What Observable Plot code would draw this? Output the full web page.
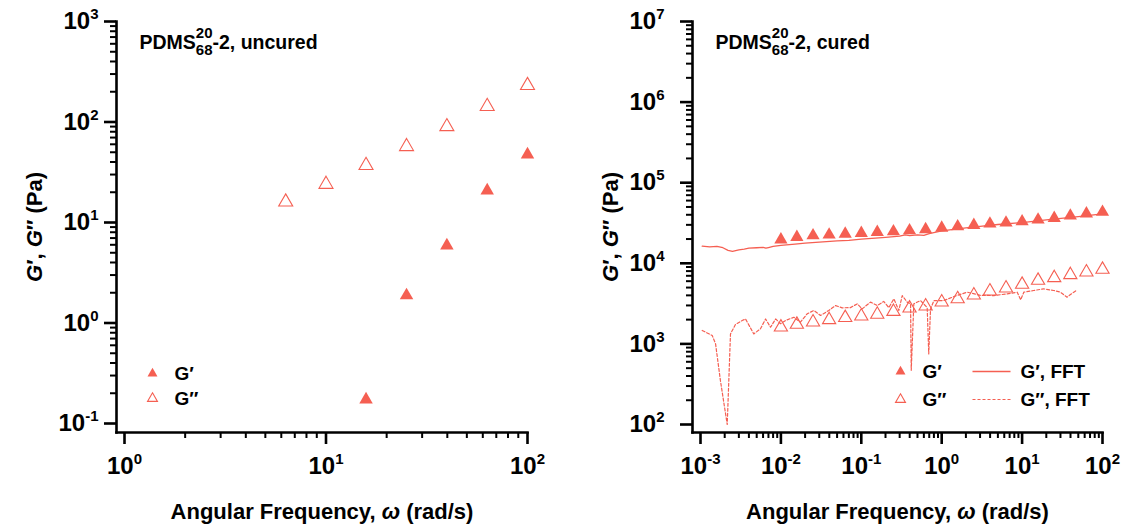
<!DOCTYPE html>
<html><head><meta charset="utf-8">
<script src="https://cdn.jsdelivr.net/npm/d3@7"></script>
<script src="https://cdn.jsdelivr.net/npm/@observablehq/plot@0.6"></script>
<style>
html,body{margin:0;padding:0;background:#fff;}
#wrap{display:flex;width:1122px;height:525px;}
#wrap svg{font-family:"Liberation Sans",Arial,sans-serif;}
</style></head><body><div id="wrap"></div>
<script>
// ---------- data ----------
const leftGpX  = [15.8, 25.1, 39.8, 63.1, 100];
const leftGpY  = [0.173, 1.88, 5.9, 20.8, 47.5];
const leftGppX = [6.31, 10, 15.8, 25.1, 39.8, 63.1, 100];
const leftGppY = [16, 24, 37, 57, 90, 143, 231];

const rightX   = [0.01,0.0158,0.0251,0.0398,0.0631,0.1,0.158,0.251,0.398,0.631,1,1.58,2.51,3.98,6.31,10,15.8,25.1,39.8,63.1,100];
const rightGp  = [19700,21100,22100,22600,23200,23700,24300,24800,25500,26300,27500,28600,29700,30900,31800,33000,34700,36300,38900,41200,43300];
const rightGpp = [1610,1740,1860,1990,2110,2210,2320,2520,2770,2940,3290,3620,4020,4510,4910,5460,6120,6610,7200,7760,8380];

const fftGpX = [0.00105,0.0013,0.0016,0.0019,0.0022,0.0025,0.003,0.0035,0.004,0.005,0.006,0.0065,0.007,0.008,0.01,0.015,0.02,0.03,0.05,0.07,0.1,0.15,0.2,0.3,0.35,0.4,0.5,0.6,0.7,1,1.5,2,3,5,10,20,50,100];
const fftGpY = [16300,16000,16200,15600,14500,14100,14700,15000,15400,15600,15800,15400,15700,16200,16700,17300,17800,18300,19000,19300,19900,20500,21000,21700,22500,22000,22500,22200,23300,25300,26600,27500,28800,30300,32000,34500,38000,41000];

const fftGppX = [0.00105,0.0014,0.00154,0.00177,0.00215,0.00236,0.00272,0.0033,0.00363,0.0046,0.00557,0.00645,0.00743,0.0086,0.0099,0.0114,0.0145,0.0175,0.0212,0.0257,0.0311,0.0394,0.0478,0.0578,0.0734,0.089,0.1026,0.13,0.158,0.19,0.22,0.254,0.293,0.323,0.372,0.41,0.418,0.45,0.545,0.66,0.69,0.726,0.8,1.06,1.56,2.08,3.04,4.46,6.54,8.7,9.6,10.5,13.9,18.6,24.7,29.9,36.2,43.9,48.4];
const fftGppY = [1470,1270,1000,350,100,1330,1740,1950,2040,1330,1540,2040,1610,2040,1780,1950,2140,1860,2360,2600,2250,2600,2990,2800,2820,3140,2720,3300,2990,3360,2820,3620,2600,3980,3300,3140,470,3140,3450,2820,750,2700,3450,3450,4000,4380,4000,3980,4180,4380,3520,4380,4600,4820,4600,4380,3800,4380,4680];

const leftXTicks  = [1, 10, 100];
const leftYTicks  = [0.1, 1, 10, 100, 1000];
const rightXTicks = [0.001, 0.01, 0.1, 1, 10, 100];
const rightYTicks = [1e2, 1e3, 1e4, 1e5, 1e6, 1e7];

const legendLabels = ["G′", "G″", "G′, FFT", "G″, FFT"];
const panelNames = ["uncured", "cured"];

// ---------- helpers ----------
const C = "#f55f52";
const FONT = '"Liberation Sans", Arial, sans-serif';
const pts = (xs, ys) => xs.map((w, i) => ({w, g: ys[i]}));
function minors(majors) {
  const out = [];
  for (let k = 0; k < majors.length - 1; k++)
    for (let m = 2; m <= 9; m++) out.push(majors[k] * m);
  return out;
}
const sci = d => "10^" + Math.round(Math.log10(d));
const lineSymbol = {draw(ctx) { ctx.moveTo(-19, 0); ctx.lineTo(19, 0); }};
const svgNS = "http://www.w3.org/2000/svg";
function rich(el, parts) {
  while (el.firstChild) el.removeChild(el.firstChild);
  for (const p of parts) {
    const ts = document.createElementNS(svgNS, "tspan");
    ts.textContent = p.t;
    if (p.size) ts.setAttribute("font-size", p.size);
    if (p.dy) ts.setAttribute("dy", p.dy);
    if (p.dx) ts.setAttribute("dx", p.dx);
    if (p.i) ts.setAttribute("font-style", "italic");
    el.appendChild(ts);
  }
}
const TXT = {fontWeight: "bold", fill: "black", lineAnchor: "middle"};
function axes(xT, yT, yPad) {
  return [
    Plot.frame({anchor: "left", stroke: "black", strokeWidth: 2.6}),
    Plot.frame({anchor: "bottom", stroke: "black", strokeWidth: 2.6}),
    Plot.axisX(xT, {tickSize: 12, tickPadding: 12, tickFormat: sci, fontSize: 24, fontWeight: "bold", stroke: "black", fill: "black", strokeWidth: 2.6, label: null}),
    Plot.axisX(minors(xT), {tickSize: 6, tickFormat: () => "", stroke: "black", strokeWidth: 2, label: null}),
    Plot.axisY(yT, {tickSize: 12, tickPadding: yPad, tickFormat: sci, fontSize: 24, fontWeight: "bold", stroke: "black", fill: "black", strokeWidth: 2.6, label: null}),
    Plot.axisY(minors(yT), {tickSize: 6, tickFormat: () => "", stroke: "black", strokeWidth: 2, label: null}),
    Plot.text(["@XT"], {...TXT, text: d => d, frameAnchor: "bottom", dy: 79, textAnchor: "middle", fontSize: 22}),
    Plot.text(["@YT"], {...TXT, text: d => d, frameAnchor: "left", dx: -82, rotate: -90, textAnchor: "middle", fontSize: 22})
  ];
}
function post(svg, name) {
  svg.querySelectorAll("text").forEach(t => {
    const s = t.textContent;
    if (s.startsWith("10^")) {
      rich(t, [{t: "10"}, {t: s.slice(3), size: 15, dy: -10}]);
    } else if (s === "@XT") {
      rich(t, [{t: "Angular Frequency, "}, {t: "ω", i: true}, {t: " (rad/s)"}]);
    } else if (s === "@YT") {
      rich(t, [{t: "G", i: true}, {t: "′, "}, {t: "G", i: true}, {t: "″ (Pa)"}]);
    } else if (s === "@TITLE") {
      rich(t, [{t: "PDMS"}, {t: "20", size: 15, dy: -11}, {t: "68", size: 15, dx: -16.7, dy: 17}, {t: "-2, " + name, dy: -6}]);
    }
  });
  return svg;
}
function legendRow(dx, dy, filled, label, lineDx, lineLabel, dashed) {
  const m = [
    Plot.dot([0], {frameAnchor: "bottom-left", dx, dy, symbol: "triangle", r: 3.7, fill: filled ? C : "none", stroke: filled ? "none" : C, strokeWidth: 1.1}),
    Plot.text([label], {...TXT, text: d => d, frameAnchor: "bottom-left", dx: dx + 22, dy, textAnchor: "start", fontSize: 19})
  ];
  if (lineDx != null) {
    m.push(Plot.dot([0], {frameAnchor: "bottom-left", dx: lineDx, dy, symbol: lineSymbol, fill: "none", stroke: C, strokeWidth: dashed ? 1.1 : 1.4, strokeDasharray: dashed ? "3,2" : null}));
    m.push(Plot.text([lineLabel], {...TXT, text: d => d, frameAnchor: "bottom-left", dx: lineDx + 29, dy, textAnchor: "start", fontSize: 19}));
  }
  return m;
}

// ---------- left panel ----------
const left = Plot.plot({
  width: 561, height: 525,
  marginLeft: 116, marginRight: 34, marginTop: 21, marginBottom: 93,
  style: {fontFamily: FONT, background: "white", color: "black", overflow: "visible"},
  x: {type: "log", domain: [1, 100], range: [124, 527]},
  y: {type: "log", domain: [0.1, 1000], range: [423, 21]},
  marks: [
    ...axes(leftXTicks, leftYTicks, 6),
    Plot.dot(pts(leftGppX, leftGppY), {x: "w", y: "g", symbol: "triangle", r: 5.2, fill: "none", stroke: C, strokeWidth: 1.1}),
    Plot.dot(pts(leftGpX, leftGpY), {x: "w", y: "g", symbol: "triangle", r: 5.0, fill: C, stroke: "none"}),
    Plot.text(["@TITLE"], {...TXT, text: d => d, frameAnchor: "top-left", dx: 23, dy: 21, textAnchor: "start", fontSize: 19.5}),
    ...legendRow(36, -59, true, legendLabels[0]),
    ...legendRow(36, -34, false, legendLabels[1])
  ]
});

// ---------- right panel ----------
const right = Plot.plot({
  width: 561, height: 525,
  marginLeft: 131, marginRight: 20, marginTop: 21, marginBottom: 93,
  style: {fontFamily: FONT, background: "white", color: "black", overflow: "visible"},
  x: {type: "log", domain: [0.001, 100], range: [139, 541]},
  y: {type: "log", domain: [100, 1e7], range: [424, 21]},
  marks: [
    ...axes(rightXTicks, rightYTicks, 16),
    Plot.line(pts(fftGppX, fftGppY), {x: "w", y: "g", stroke: C, strokeWidth: 1.2, strokeDasharray: "3,2"}),
    Plot.line(pts(fftGpX, fftGpY), {x: "w", y: "g", stroke: C, strokeWidth: 1.3}),
    Plot.dot(pts(rightX, rightGpp), {x: "w", y: "g", symbol: "triangle", r: 4.9, fill: "none", stroke: C, strokeWidth: 1.1}),
    Plot.dot(pts(rightX, rightGp), {x: "w", y: "g", symbol: "triangle", r: 4.9, fill: C, stroke: "none"}),
    Plot.text(["@TITLE"], {...TXT, text: d => d, frameAnchor: "top-left", dx: 23, dy: 21, textAnchor: "start", fontSize: 19.5}),
    ...legendRow(208, -61, true, legendLabels[0], 299, legendLabels[2], false),
    ...legendRow(208, -33, false, legendLabels[1], 299, legendLabels[3], true)
  ]
});

const wrap = document.getElementById("wrap");
wrap.appendChild(post(left, panelNames[0]));
wrap.appendChild(post(right, panelNames[1]));
</script></body></html>
